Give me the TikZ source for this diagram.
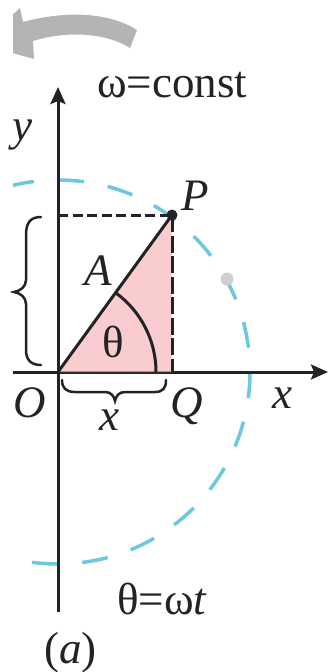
\documentclass[tikz,border=0pt]{standalone}
\usepackage{fontspec}
\setmainfont{Liberation Serif}
\usetikzlibrary{arrows.meta}
\definecolor{cyandash}{RGB}{108,200,222}
\definecolor{pinkfill}{RGB}{246,182,186}
\definecolor{arrowgray}{RGB}{180,180,180}
\definecolor{dotgray}{RGB}{208,208,208}
\definecolor{inkblack}{RGB}{35,35,35}
\begin{document}
\begin{tikzpicture}[x=1pt,y=-1pt,
  lbl/.style={inner sep=0pt, font=\fontsize{45}{50}\selectfont, text=inkblack},
  axisline/.style={line width=3pt, draw=inkblack, -{Stealth[length=17pt,width=15pt,inset=3pt]}},
  solidline/.style={line width=3pt, draw=inkblack},
  hdash/.style={line width=3pt, draw=inkblack, dash pattern=on 10pt off 4.5pt},
  vdash/.style={line width=3pt, draw=inkblack, dash pattern=on 17pt off 3.5pt},
  circdash/.style={line width=3.5pt, draw=cyandash, dash pattern=on 26.1pt off 24.165pt},
  bracestyle/.style={line width=2.5pt, draw=inkblack, line cap=round}
]
\useasboundingbox (0,0) rectangle (328,672);
\coordinate (O) at (58,372);
\coordinate (P) at (172,215);
\coordinate (Q) at (172,372);
\coordinate (Py) at (58,215);
\coordinate (ytop) at (58,87);
\coordinate (ybot) at (58,612);
\coordinate (xleft) at (13,372);
\coordinate (xright) at (328,372);
\coordinate (G) at (227,279);

% clipped background parts
\begin{scope}
  \clip (13,0) rectangle (328,672);
  \fill[arrowgray] (137,30) .. controls (105,10) and (60,12) .. (23,22)
     -- (20,8) -- (-20,44) -- (34,59) -- (33,41)
     .. controls (65,31) and (105,32) .. (130,48) -- cycle;
  \draw[circdash] (O) ++(0:192) arc[start angle=0, end angle=360, radius=192];
\end{scope}

% axes
\draw[axisline] (ybot) -- (ytop);
\draw[axisline] (xleft) -- (xright);

% pink triangle
\fill[pinkfill, opacity=0.7] (O) -- (P) -- (Q) -- cycle;

% angle arc, radius, projections
\draw[solidline] (O) ++(0:98) arc[start angle=0, end angle=-54, radius=98];
\draw[solidline] (O) -- (P);
\draw[hdash] (Py) -- (P);
\draw[vdash] (P) -- (Q);

% braces
\draw[bracestyle] (41,217) .. controls (31,217) and (26,222) .. (26,235) -- (26,280)
   .. controls (26,287) and (20,291) .. (14,292)
   .. controls (20,293) and (26,297) .. (26,304) -- (26,350)
   .. controls (26,360) and (31,365) .. (41,365);
\draw[bracestyle] (62,380) .. controls (62,388) and (66,392) .. (75,392) -- (105,392)
   .. controls (111,392) and (114,396) .. (115,401)
   .. controls (116,396) and (119,392) .. (125,392) -- (155,392)
   .. controls (163,392) and (166,388) .. (166,380);

% dots
\fill[inkblack] (P) circle[radius=5.5];
\fill[dotgray] (G) circle[radius=6.5];

% labels
\node[lbl, anchor=base west] (lomega) at (97,97) {ω=const};
\node[lbl, anchor=base west] (ltheta) at (117,614) {θ=ω\textit{t}};
\node[lbl, anchor=base west] (lpart) at (44,663) {(\textit{a})};
\node[lbl, anchor=base west] (ly) at (12,140) {\textit{y}};
\node[lbl, anchor=base west] (lP) at (181,210) {\textit{P}};
\node[lbl, anchor=base west] (lA) at (84,285) {\textit{A}};
\node[lbl, anchor=base west] (lth) at (102,357) {θ};
\node[lbl, anchor=base west] (lO) at (13,417) {\textit{O}};
\node[lbl, anchor=base west] (lQ) at (170,417) {\textit{Q}};
\node[lbl, anchor=base west] (lx1) at (99,430) {\textit{x}};
\node[lbl, anchor=base west] (lx2) at (272,408) {\textit{x}};
\end{tikzpicture}
\end{document}
